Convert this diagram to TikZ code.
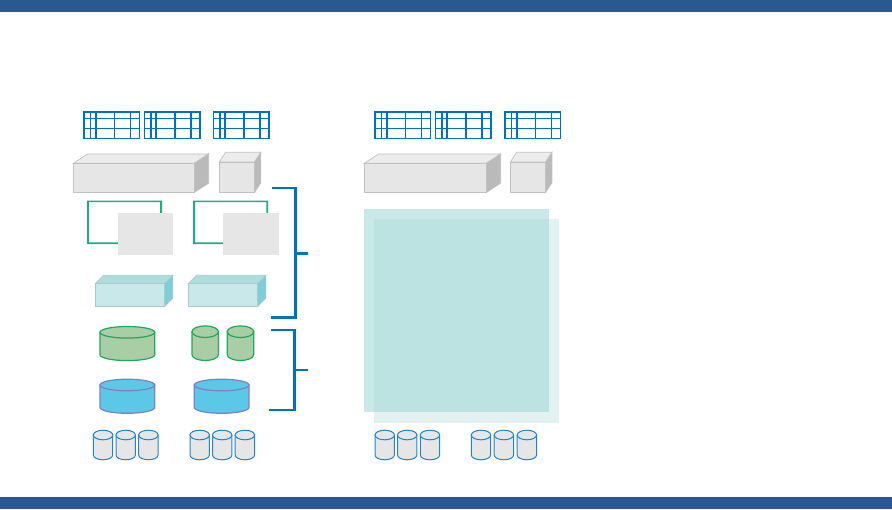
\documentclass[tikz,border=0pt]{standalone}
\usepackage{xcolor}
\usepackage{tikz}

\definecolor{barblue}{HTML}{2A5890}
\definecolor{linkblue}{HTML}{0070C0}
\definecolor{boxgray}{HTML}{E6E6E6}
\definecolor{boxtop}{HTML}{ECECEC}
\definecolor{boxside}{HTML}{BABABA}
\definecolor{boxedge}{HTML}{C2C2C2}
\definecolor{palefront}{HTML}{C9E8E9}
\definecolor{paletop}{HTML}{AEDDDE}
\definecolor{paleside}{HTML}{7CCEDC}
\definecolor{paleedge}{HTML}{A9CBCC}
\definecolor{framegreen}{HTML}{1BAE82}
\definecolor{tankgreen}{HTML}{A9CDA4}
\definecolor{edgegreen}{HTML}{1FA85E}
\definecolor{tankblue}{HTML}{5BC8E8}
\definecolor{edgeblue}{HTML}{8080C0}
\definecolor{drumedge}{HTML}{1E86C8}
\definecolor{sheet}{HTML}{C9E8E8}
\definecolor{overlay}{HTML}{A0D6D3}

\begin{document}
\begin{tikzpicture}[x=1pt,y=-1pt]
	\tikzstyle{bar} = [fill=barblue, draw=none]
	\tikzstyle{bracket} = [draw=linkblue, line width=2.4pt]
	\tikzstyle{greenframe} = [fill=framegreen, even odd rule]
	\tikzstyle{pane} = [fill=boxgray, draw=none]
	\tikzstyle{greentank} = [fill=tankgreen, draw=edgegreen, line width=1.2pt]
	\tikzstyle{bluetank} = [fill=tankblue, draw=edgeblue, line width=1.2pt]
	\tikzstyle{drumtank} = [fill=boxgray, draw=drumedge, line width=1pt]
	\tikzset{
		table/.pic = {
			\foreach \cx in {0,6.7,30.7,46.7,55.7}
				\fill[linkblue] (\cx-.65,-.65) rectangle (\cx+.65,26.95);
			\fill[linkblue] (11.7-.9,-.65) rectangle (11.7+.9,26.95);
			\foreach \cy in {0,6.3,16.3,26.3}
				\fill[linkblue] (-.65,\cy-.65) rectangle (56.35,\cy+.65);
		},
		cuboid/.pic = {
			\draw[draw=\cubeedge, line width=.7pt, fill=\cubetop] (0,0) -- (\cubedx,-\cubedy) -- (\cubew+\cubedx,-\cubedy) -- (\cubew,0) -- cycle;
			\draw[draw=\cubeedge, line width=.7pt, fill=\cubeside] (\cubew,0) -- (\cubew+\cubedx,-\cubedy) -- (\cubew+\cubedx,\cubeh-\cubedy) -- (\cubew,\cubeh) -- cycle;
			\draw[draw=\cubeedge, line width=.7pt, fill=\cubefront] (0,0) rectangle (\cubew,\cubeh);
		},
		barrel/.pic = {
			\path[pic actions] (0,0) -- (0,\barh) arc[start angle=180, end angle=0, x radius=\barw/2, y radius=\barry] -- (\barw,0) -- cycle;
			\path[pic actions] (\barw/2,0) ellipse[x radius=\barw/2, y radius=\barry];
		}
	}

	\useasboundingbox (0,0) rectangle (892,509);
	\node[bar, minimum width=892pt, minimum height=12pt, inner sep=0pt, anchor=north west] (topbar) at (0,0) {};
	\node[bar, minimum width=892pt, minimum height=12pt, inner sep=0pt, anchor=north west] (bottombar) at (0,497) {};

	% tables
	\foreach \tx in {84,144.3,213.4,375,435.4,505}
		\pic at (\tx,112) {table};

	% large and small gray boxes
	\def\cubeedge{boxedge}\def\cubetop{boxtop}\def\cubeside{boxside}\def\cubefront{boxgray}
	\def\cubeh{29.2}
	\def\cubew{121}\def\cubedx{14.4}\def\cubedy{9.4}
	\pic at (73.3,163.3) {cuboid};
	\def\cubew{122}
	\pic at (364.3,163.3) {cuboid};
	\def\cubeh{30.5}
	\def\cubew{35.3}\def\cubedx{6.2}\def\cubedy{9.7}
	\pic at (219.3,162) {cuboid};
	\pic at (510.4,162) {cuboid};

	% frames with panes
	\path[greenframe] (87,200.5) rectangle (162,244) (88.8,202.2) rectangle (160.2,242.3);
	\node[pane, minimum width=55pt, minimum height=42pt, inner sep=0pt] (pane1) at (145.5,234) {};
	\path[greenframe] (193.2,200.5) rectangle (268.2,244) (195,202.2) rectangle (266.4,242.3);
	\node[pane, minimum width=56pt, minimum height=42pt, inner sep=0pt] (pane2) at (251,234) {};

	% pale boxes
	\def\cubeedge{paleedge}\def\cubetop{paletop}\def\cubeside{paleside}\def\cubefront{palefront}
	\def\cubeh{23}
	\def\cubew{69.2}\def\cubedx{8.3}\def\cubedy{8.2}
	\pic at (95.3,283.5) {cuboid};
	\pic at (188.3,283.5) {cuboid};

	% sheets
	\node[fill=sheet, minimum width=184.9pt, minimum height=203.5pt, inner sep=0pt, anchor=north west] (sheet1) at (364,208.7) {};
	\node[fill=overlay, fill opacity=.315, minimum width=184.7pt, minimum height=203.7pt, inner sep=0pt, anchor=north west] (sheet2) at (374,219) {};

	% tanks
	\def\barw{54.7}\def\barh{22.5}\def\barry{5.8}
	\pic[greentank] at (100,332.3) {barrel};
	\pic[bluetank] at (100,385) {barrel};
	\pic[bluetank] at (194.3,385) {barrel};
	\def\barw{26.4}\def\barh{23}\def\barry{5.8}
	\pic[greentank] at (192,331.7) {barrel};
	\pic[greentank] at (227.3,331.7) {barrel};

	% drums
	\def\barw{19.4}\def\barh{20}\def\barry{4.8}
	\foreach \dx in {93.3,116,138.7,190,212.5,235.2,375,397.5,420.3,471.3,494.2,517.2}
		\pic[drumtank] at (\dx,435) {barrel};

	% brackets
	\coordinate (upperstart) at (272,188);
	\coordinate (upperend) at (271,317.6);
	\coordinate (uppermid) at (295.3,253.5);
	\coordinate (upperfree) at (308,253.5);
	\coordinate (lowerstart) at (271,330);
	\coordinate (lowerend) at (269,410);
	\coordinate (lowermid) at (294.6,370);
	\coordinate (lowerfree) at (308,370);
	\draw[bracket] (upperstart) -| (uppermid) |- (upperend);
	\draw[bracket] (uppermid) -- (upperfree);
	\draw[bracket] (lowerstart) -| (lowermid) |- (lowerend);
	\draw[bracket] (lowermid) -- (lowerfree);
\end{tikzpicture}
\end{document}
